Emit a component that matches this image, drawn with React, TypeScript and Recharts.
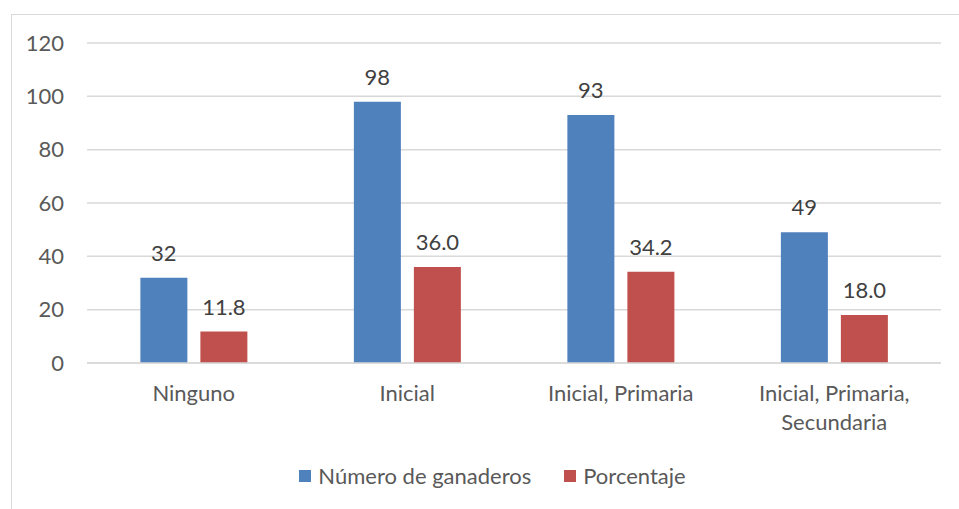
import React from "react";
import { BarChart, Bar, XAxis, YAxis, CartesianGrid, Legend, LabelList } from "recharts";

const CATEGORIES = ["Ninguno", "Inicial", "Inicial, Primaria", "Inicial, Primaria, Secundaria"];
const GANADEROS = [32, 98, 93, 49];
const PORCENTAJE = [11.8, 36.0, 34.2, 18.0];
const Y_TICKS = [0, 20, 40, 60, 80, 100, 120];

const SERIES = [
  { key: "ganaderos", name: "Número de ganaderos", color: "#4F81BD" },
  { key: "porcentaje", name: "Porcentaje", color: "#C0504D" },
];

const data = CATEGORIES.map((c, i) => ({
  categoria: c,
  ganaderos: GANADEROS[i],
  porcentaje: PORCENTAJE[i],
}));

const FONT = "Lato, 'Open Sans', sans-serif";
const FS = 22;

// greedy wrap by character count, like the category axis does in the original
function wrap(label: string, max = 18) {
  const lines: string[] = [];
  let cur = "";
  for (const w of label.split(" ")) {
    const next = cur ? cur + " " + w : w;
    if (next.length > max && cur) {
      lines.push(cur);
      cur = w;
    } else cur = next;
  }
  if (cur) lines.push(cur);
  return lines;
}

function XTick(props: any) {
  const { x, y, payload } = props;
  const lines = wrap(String(payload.value));
  return (
    <text x={x} y={y} textAnchor="middle" fill="#595959" fontSize={FS} fontFamily={FONT}>
      {lines.map((l, i) => (
        <tspan key={i} x={x} dy={i === 0 ? "0.71em" : 29}>
          {l}
        </tspan>
      ))}
    </text>
  );
}

function LegendBox() {
  return (
    <div style={{ display: "flex", justifyContent: "center", alignItems: "center", paddingTop: 19, paddingLeft: 44, fontFamily: FONT, fontSize: FS, color: "#595959" }}>
      {SERIES.map((s, i) => (
        <div key={s.key} style={{ display: "flex", alignItems: "center", marginLeft: i ? 33 : 0 }}>
          <span style={{ width: 12, height: 12, background: s.color, display: "inline-block", marginRight: 7 }} />
          <span>{s.name}</span>
        </div>
      ))}
    </div>
  );
}

export default function App() {
  return (
    <div style={{ position: "fixed", left: 0, top: 0, width: 959, height: 509, background: "#fff", overflow: "hidden" }}>
      <div style={{ position: "absolute", left: 11, top: 14, width: 1000, height: 600, border: "1px solid #D9D9D9" }} />
      <div style={{ position: "absolute", left: 0, top: 0 }}>
        <BarChart
          width={959}
          height={509}
          data={data}
          margin={{ top: 43, right: 18, left: 0, bottom: 0 }}
          barCategoryGap="25%"
          barGap={13}
        >
          <CartesianGrid vertical={false} stroke="#D9D9D9" strokeWidth={1.5} />
          <XAxis
            dataKey="categoria"
            axisLine={{ stroke: "#D9D9D9", strokeWidth: 1.5 }}
            tickLine={false}
            tickSize={0}
            tickMargin={22}
            height={80}
            tick={<XTick />}
            interval={0}
          />
          <YAxis
            domain={[0, 120]}
            ticks={Y_TICKS}
            width={87}
            axisLine={false}
            tickLine={false}
            tickSize={0}
            tickMargin={23}
            tick={{ fill: "#595959", fontSize: FS, fontFamily: FONT }}
          />
          <Legend verticalAlign="bottom" height={66} content={<LegendBox />} />
          {SERIES.map((s) => (
            <Bar key={s.key} dataKey={s.key} name={s.name} fill={s.color} isAnimationActive={false}>
              <LabelList
                dataKey={s.key}
                position="top"
                offset={17}
                fill="#404040"
                fontSize={FS}
                fontFamily={FONT}
                formatter={(v: any) => (s.key === "porcentaje" ? Number(v).toFixed(1) : String(v))}
              />
            </Bar>
          ))}
        </BarChart>
      </div>
    </div>
  );
}
